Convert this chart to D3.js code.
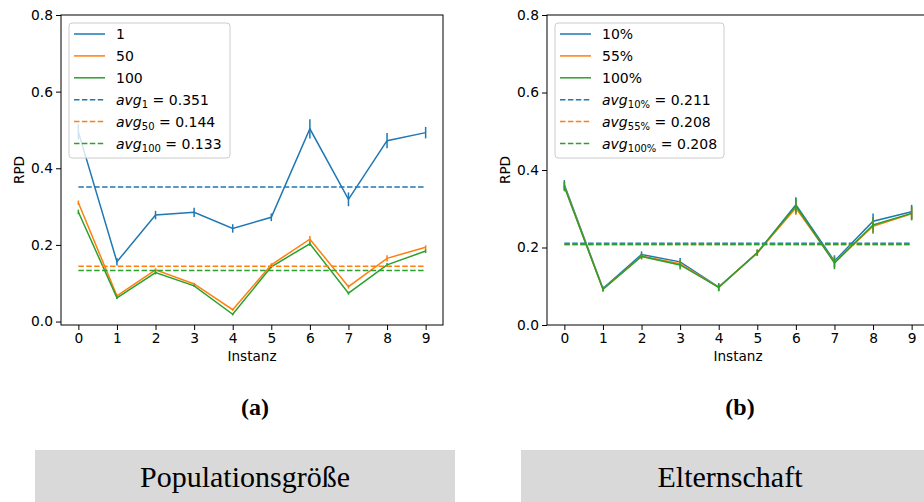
<!DOCTYPE html>
<html>
<head>
<meta charset="utf-8">
<script src="https://cdn.jsdelivr.net/npm/d3@7"></script>
<style>
  body { margin: 0; background: #fff; }
  svg { display: block; font-family: "DejaVu Sans", sans-serif; }
  .tick text { font-size: 13.8px; fill: #000; font-family: "DejaVu Sans", sans-serif; }
  .tick line, .domain { stroke: #000; }
</style>
</head>
<body>
<div id="chart"></div>
<script>
const instances = [0, 1, 2, 3, 4, 5, 6, 7, 8, 9];
const yTicks = [0.0, 0.2, 0.4, 0.6, 0.8];
const colors = ["#1f77b4", "#ff7f0e", "#2ca02c"];

// (a) Populationsgröße
const popLabels = ["1", "50", "100"];
const popSubs = ["1", "50", "100"];
const popAvg = [0.351, 0.144, 0.133];
const pop1 = [0.495, 0.156, 0.278, 0.285, 0.243, 0.272, 0.503, 0.319, 0.472, 0.493];
const pop50 = [0.31, 0.067, 0.135, 0.098, 0.031, 0.148, 0.215, 0.091, 0.165, 0.194];
const pop100 = [0.286, 0.062, 0.128, 0.093, 0.019, 0.143, 0.203, 0.074, 0.148, 0.184];
const pop1Err = [0.02, 0.01, 0.011, 0.012, 0.011, 0.01, 0.025, 0.018, 0.02, 0.015];
const pop50Err = [0.006, 0.003, 0.004, 0.003, 0.003, 0.004, 0.008, 0.005, 0.008, 0.005];
const pop100Err = [0.006, 0.003, 0.005, 0.003, 0.003, 0.004, 0.006, 0.004, 0.005, 0.005];

// (b) Elternschaft
const parLabels = ["10%", "55%", "100%"];
const parSubs = ["10%", "55%", "100%"];
const parAvg = [0.211, 0.208, 0.208];
const par10 = [0.362, 0.094, 0.182, 0.163, 0.098, 0.186, 0.31, 0.165, 0.268, 0.292];
const par55 = [0.358, 0.092, 0.178, 0.158, 0.097, 0.186, 0.302, 0.162, 0.255, 0.287];
const par100 = [0.357, 0.092, 0.177, 0.155, 0.097, 0.187, 0.307, 0.16, 0.258, 0.288];
const par10Err = [0.012, 0.006, 0.008, 0.01, 0.01, 0.008, 0.02, 0.015, 0.02, 0.018];
const par55Err = [0.01, 0.005, 0.007, 0.01, 0.009, 0.008, 0.018, 0.014, 0.02, 0.016];
const par100Err = [0.012, 0.006, 0.008, 0.012, 0.01, 0.008, 0.02, 0.016, 0.02, 0.018];

const svg = d3
  .select("#chart")
  .append("svg")
  .attr("width", 924)
  .attr("height", 502);

const drawPanel = (left, yMin, labels, subs, avgs, series, errors, caption, title, legendW) => {
  const top = 15,
    bottom = 325,
    width = 382;

  const x = d3.scaleLinear().domain([-0.45, 9.45]).range([left, left + width]);
  const y = d3.scaleLinear().domain([yMin, 0.8]).range([bottom, top]);

  const g = svg.append("g");

  // frame
  g.append("rect")
    .attr("x", left)
    .attr("y", top)
    .attr("width", width)
    .attr("height", bottom - top)
    .attr("fill", "none")
    .attr("stroke", "#000")
    .attr("stroke-width", 1);

  g.append("g")
    .attr("transform", `translate(0, ${bottom})`)
    .call(d3.axisBottom(x).tickValues(instances).tickFormat(d3.format("d")).tickSize(5).tickPadding(3))
    .call((a) => a.select(".domain").remove());

  g.append("g")
    .attr("transform", `translate(${left}, 0)`)
    .call(d3.axisLeft(y).tickValues(yTicks).tickFormat(d3.format(".1f")).tickSize(5).tickPadding(3))
    .call((a) => a.select(".domain").remove());

  g.append("text")
    .attr("x", (x(0) + x(9)) / 2)
    .attr("y", 361)
    .attr("text-anchor", "middle")
    .attr("font-size", 13.6)
    .text("Instanz");

  g.append("text")
    .attr("transform", `translate(${left - 37}, ${(top + bottom) / 2}) rotate(-90)`)
    .attr("text-anchor", "middle")
    .attr("font-size", 13.6)
    .text("RPD");

  const line = d3
    .line()
    .x((d, i) => x(instances[i]))
    .y((d) => y(d));

  series.forEach((vals, k) => {
    g.append("path")
      .attr("d", line(vals))
      .attr("fill", "none")
      .attr("stroke", colors[k])
      .attr("stroke-width", 1.5);
    g.selectAll(null)
      .data(vals)
      .join("line")
      .attr("x1", (d, i) => x(instances[i]))
      .attr("x2", (d, i) => x(instances[i]))
      .attr("y1", (d, i) => y(d - errors[k][i]))
      .attr("y2", (d, i) => y(d + errors[k][i]))
      .attr("stroke", colors[k])
      .attr("stroke-width", 1.5);
  });

  avgs.forEach((a, k) => {
    g.append("line")
      .attr("x1", x(0))
      .attr("x2", x(9))
      .attr("y1", y(a))
      .attr("y2", y(a))
      .attr("stroke", colors[k])
      .attr("stroke-width", 1.5)
      .attr("stroke-dasharray", "5.5,2.4");
  });

  // legend
  const lg = g.append("g").attr("transform", `translate(${left + 8}, 23)`);
  lg.append("rect")
    .attr("width", legendW)
    .attr("height", 135)
    .attr("rx", 3)
    .attr("fill", "#fff")
    .attr("fill-opacity", 0.8)
    .attr("stroke", "#ccc")
    .attr("stroke-width", 1);

  const rows = [
    ...labels.map((l, k) => ({ k, dashed: false, label: l })),
    ...avgs.map((a, k) => ({ k, dashed: true, sub: subs[k], val: a })),
  ];

  rows.forEach((r, i) => {
    const ry = 11 + i * 21.9;
    lg.append("line")
      .attr("x1", 5)
      .attr("x2", 36)
      .attr("y1", ry)
      .attr("y2", ry)
      .attr("stroke", colors[r.k])
      .attr("stroke-width", 1.5)
      .attr("stroke-dasharray", r.dashed ? "5.5,2.4" : null);
    const t = lg.append("text")
      .attr("x", 47)
      .attr("y", ry + 5)
      .attr("font-size", 14);
    if (!r.dashed) {
      t.text(r.label);
    } else {
      t.append("tspan").attr("font-style", "italic").text("avg");
      t.append("tspan").attr("font-size", 10).attr("dy", 3).text(r.sub);
      t.append("tspan").attr("dy", -3).text(` = ${d3.format(".3f")(r.val)}`);
    }
  });

  // sub caption
  svg.append("text")
    .attr("x", caption.x)
    .attr("y", 415)
    .attr("text-anchor", "middle")
    .attr("font-family", "'Liberation Serif', serif")
    .attr("font-weight", "bold")
    .attr("font-size", 24)
    .text(caption.text);

  // title box
  svg.append("rect")
    .attr("x", title.x0)
    .attr("y", 450)
    .attr("width", title.x1 - title.x0)
    .attr("height", 52)
    .attr("fill", "#d9d9d9");
  svg.append("text")
    .attr("x", title.cx)
    .attr("y", 487)
    .attr("text-anchor", "middle")
    .attr("font-family", "'Liberation Serif', serif")
    .attr("font-size", 30)
    .text(title.text);
};

drawPanel(
  61,
  -0.009,
  popLabels,
  popSubs,
  popAvg,
  [pop1, pop50, pop100],
  [pop1Err, pop50Err, pop100Err],
  { x: 255, text: "(a)" },
  { x0: 35, x1: 455, cx: 245, text: "Populationsgröße" },
  161
);

drawPanel(
  547,
  0,
  parLabels,
  parSubs,
  parAvg,
  [par10, par55, par100],
  [par10Err, par55Err, par100Err],
  { x: 740, text: "(b)" },
  { x0: 521, x1: 924, cx: 730, text: "Elternschaft" },
  169
);
</script>
</body>
</html>
